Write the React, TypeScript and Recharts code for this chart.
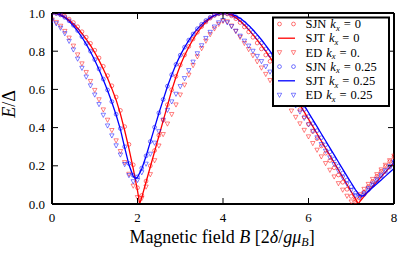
import React from 'react';
import { ComposedChart, Line, Scatter, XAxis, YAxis } from 'recharts';

// Magnetic field grid used by the markers
const B = [
  0.0, 0.1, 0.2, 0.3, 0.4, 0.5, 0.6, 0.7, 0.8, 0.9,
  1.0, 1.1, 1.2, 1.3, 1.4, 1.5, 1.6, 1.7, 1.8, 1.9,
  2.0, 2.1, 2.2, 2.3, 2.4, 2.5, 2.6, 2.7, 2.8, 2.9,
  3.0, 3.1, 3.2, 3.3, 3.4, 3.5, 3.6, 3.7, 3.8, 3.9,
  4.0, 4.1, 4.2, 4.3, 4.4, 4.5, 4.6, 4.7, 4.8, 4.9,
  5.0, 5.1, 5.2, 5.3, 5.4, 5.5, 5.6, 5.7, 5.8, 5.9,
  6.0, 6.1, 6.2, 6.3, 6.4, 6.5, 6.6, 6.7, 6.8, 6.9,
  7.0, 7.1, 7.2, 7.3, 7.4, 7.5, 7.6, 7.7, 7.8, 7.9,
  8.0,
];

const SJN_K0 = [
  1.000, 0.999, 0.993, 0.983, 0.968, 0.950, 0.928, 0.902, 0.873, 0.841,
  0.805, 0.765, 0.721, 0.672, 0.619, 0.560, 0.490, 0.405, 0.312, 0.205,
  0.085, 0.045, 0.120, 0.200, 0.280, 0.360, 0.440, 0.520, 0.598, 0.668,
  0.728, 0.780, 0.825, 0.864, 0.899, 0.929, 0.953, 0.973, 0.988, 0.996,
  0.999, 0.995, 0.985, 0.970, 0.950, 0.927, 0.901, 0.873, 0.843, 0.812,
  0.780, 0.747, 0.713, 0.678, 0.642, 0.606, 0.569, 0.532, 0.494, 0.456,
  0.418, 0.380, 0.342, 0.304, 0.266, 0.228, 0.190, 0.152, 0.114, 0.077,
  0.040, 0.012, 0.030, 0.062, 0.091, 0.118, 0.145, 0.171, 0.197, 0.222,
  0.247,
];

const SJN_K025 = [
  1.000, 0.998, 0.990, 0.977, 0.959, 0.936, 0.908, 0.876, 0.840, 0.800,
  0.756, 0.707, 0.654, 0.597, 0.536, 0.470, 0.395, 0.300, 0.212, 0.150,
  0.142, 0.188, 0.252, 0.327, 0.402, 0.477, 0.547, 0.617, 0.677, 0.731,
  0.779, 0.821, 0.858, 0.890, 0.918, 0.941, 0.961, 0.977, 0.989, 0.997,
  1.000, 0.998, 0.991, 0.980, 0.965, 0.946, 0.924, 0.899, 0.872, 0.843,
  0.812, 0.780, 0.747, 0.713, 0.678, 0.642, 0.606, 0.569, 0.532, 0.495,
  0.458, 0.421, 0.384, 0.347, 0.310, 0.273, 0.236, 0.199, 0.162, 0.126,
  0.090, 0.058, 0.042, 0.050, 0.075, 0.099, 0.123, 0.147, 0.170, 0.193,
  0.216,
];

const ED_K0 = [
  0.965, 0.952, 0.932, 0.905, 0.870, 0.828, 0.782, 0.735, 0.690, 0.643,
  0.596, 0.547, 0.494, 0.440, 0.386, 0.332, 0.276, 0.218, 0.157, 0.095,
  0.035, 0.030, 0.090, 0.155, 0.228, 0.305, 0.365, 0.420, 0.470, 0.520,
  0.572, 0.624, 0.676, 0.726, 0.772, 0.815, 0.854, 0.888, 0.918, 0.942,
  0.958, 0.955, 0.933, 0.905, 0.874, 0.842, 0.810, 0.778, 0.746, 0.713,
  0.680, 0.648, 0.616, 0.584, 0.552, 0.520, 0.488, 0.455, 0.421, 0.387,
  0.353, 0.318, 0.283, 0.248, 0.213, 0.178, 0.143, 0.108, 0.074, 0.042,
  0.012, 0.022, 0.050, 0.078, 0.104, 0.130, 0.155, 0.180, 0.204, 0.228,
  0.252,
];

const ED_K025 = [
  0.960, 0.945, 0.922, 0.893, 0.853, 0.808, 0.760, 0.712, 0.666, 0.620,
  0.572, 0.522, 0.466, 0.410, 0.358, 0.306, 0.258, 0.208, 0.150, 0.118,
  0.125, 0.165, 0.210, 0.262, 0.320, 0.380, 0.440, 0.492, 0.536, 0.576,
  0.616, 0.658, 0.700, 0.744, 0.788, 0.830, 0.868, 0.900, 0.928, 0.950,
  0.962, 0.950, 0.930, 0.906, 0.880, 0.854, 0.828, 0.801, 0.774, 0.747,
  0.720, 0.692, 0.664, 0.635, 0.606, 0.576, 0.546, 0.515, 0.483, 0.450,
  0.416, 0.382, 0.348, 0.313, 0.278, 0.243, 0.208, 0.173, 0.139, 0.105,
  0.073, 0.045, 0.035, 0.058, 0.082, 0.106, 0.130, 0.153, 0.176, 0.198,
  0.220,
];

// SJT curves (own grids including the minima)
const SJT_K0_B = [
  0.0, 0.1, 0.2, 0.3, 0.4, 0.5, 0.6, 0.7, 0.8, 0.9,
  1.0, 1.1, 1.2, 1.3, 1.4, 1.5, 1.6, 1.7, 1.8, 1.9,
  2.0, 2.05, 2.1, 2.2, 2.3, 2.4, 2.5, 2.6, 2.7, 2.8, 2.9,
  3.0, 3.1, 3.2, 3.3, 3.4, 3.5, 3.6, 3.7, 3.8, 3.9,
  4.0, 4.1, 4.2, 4.3, 4.4, 4.5, 4.6, 4.7, 4.8, 4.9,
  5.0, 5.1, 5.2, 5.3, 5.4, 5.5, 5.6, 5.7, 5.8, 5.9,
  6.0, 6.1, 6.2, 6.3, 6.4, 6.5, 6.6, 6.7, 6.8, 6.9,
  7.0, 7.1, 7.16, 7.2, 7.3, 7.4, 7.5, 7.6, 7.7, 7.8, 7.9,
  8.0,
];
const SJT_K0 = [
  1.000, 0.998, 0.991, 0.979, 0.963, 0.943, 0.920, 0.893, 0.863, 0.830,
  0.793, 0.752, 0.707, 0.658, 0.604, 0.545, 0.472, 0.385, 0.290, 0.185,
  0.070, 0.000, 0.035, 0.115, 0.195, 0.275, 0.355, 0.435, 0.515, 0.595, 0.665,
  0.725, 0.777, 0.822, 0.862, 0.897, 0.927, 0.952, 0.972, 0.987, 0.996,
  1.000, 0.997, 0.989, 0.976, 0.958, 0.937, 0.913, 0.887, 0.859, 0.830,
  0.800, 0.768, 0.735, 0.701, 0.666, 0.630, 0.594, 0.557, 0.520, 0.482,
  0.444, 0.406, 0.368, 0.330, 0.292, 0.254, 0.216, 0.178, 0.140, 0.102,
  0.064, 0.026, 0.000, 0.012, 0.040, 0.066, 0.092, 0.117, 0.142, 0.167, 0.192,
  0.216,
];

const SJT_K025_B = [
  0.0, 0.1, 0.2, 0.3, 0.4, 0.5, 0.6, 0.7, 0.8, 0.9,
  1.0, 1.1, 1.2, 1.3, 1.4, 1.5, 1.6, 1.7, 1.8, 1.9, 1.95,
  2.0, 2.1, 2.2, 2.3, 2.4, 2.5, 2.6, 2.7, 2.8, 2.9,
  3.0, 3.1, 3.2, 3.3, 3.4, 3.5, 3.6, 3.7, 3.8, 3.9,
  4.0, 4.1, 4.2, 4.3, 4.4, 4.5, 4.6, 4.7, 4.8, 4.9,
  5.0, 5.1, 5.2, 5.3, 5.4, 5.5, 5.6, 5.7, 5.8, 5.9,
  6.0, 6.1, 6.2, 6.3, 6.4, 6.5, 6.6, 6.7, 6.8, 6.9,
  7.0, 7.1, 7.2, 7.25, 7.3, 7.4, 7.5, 7.6, 7.7, 7.8, 7.9,
  8.0,
];
const SJT_K025 = [
  1.000, 0.997, 0.989, 0.976, 0.957, 0.933, 0.905, 0.873, 0.837, 0.797,
  0.753, 0.704, 0.651, 0.594, 0.533, 0.466, 0.391, 0.295, 0.205, 0.145, 0.134,
  0.140, 0.185, 0.250, 0.325, 0.400, 0.475, 0.545, 0.615, 0.675, 0.730,
  0.778, 0.820, 0.857, 0.889, 0.917, 0.940, 0.960, 0.976, 0.988, 0.996,
  1.000, 0.999, 0.994, 0.985, 0.972, 0.955, 0.935, 0.912, 0.887, 0.860,
  0.831, 0.800, 0.768, 0.734, 0.699, 0.663, 0.627, 0.590, 0.553, 0.516,
  0.479, 0.442, 0.405, 0.368, 0.331, 0.294, 0.257, 0.220, 0.183, 0.146,
  0.110, 0.074, 0.045, 0.040, 0.046, 0.066, 0.086, 0.106, 0.126, 0.146, 0.166,
  0.186,
];

const X_TICKS = [0, 2, 4, 6, 8];
const Y_TICKS = [0, 0.2, 0.4, 0.6, 0.8, 1.0];

const RED = '#ff0000';
const BLUE = '#0000ff';
const FONT = '"Liberation Serif", "DejaVu Serif", serif';

const pts = (xs: number[], ys: number[]) => xs.map((x, i) => ({ x, y: ys[i] }));

const circleShape = (color: string) => (p: any) => (
  <circle cx={p.cx} cy={p.cy} r={1.9} fill="none" stroke={color} strokeOpacity={0.6} strokeWidth={0.9} />
);
const triShape = (color: string) => (p: any) => {
  const { cx, cy } = p;
  const s = 2.2;
  return (
    <polygon
      points={`${cx - s},${cy - s * 0.8} ${cx + s},${cy - s * 0.8} ${cx},${cy + s * 1.1}`}
      fill="none"
      stroke={color}
      strokeOpacity={0.55}
      strokeWidth={0.9}
    />
  );
};

const BottomTick = (p: any) => (
  <g>
    <line x1={p.x} x2={p.x} y1={p.y} y2={p.y - 6} stroke="#000" strokeWidth={1} />
    <text x={p.x} y={p.y + 17.5} textAnchor="middle" fontFamily={FONT} fontSize={13} fill="#000">
      {p.payload.value}
    </text>
  </g>
);
const TopTick = (p: any) => (
  <line x1={p.x} x2={p.x} y1={p.y} y2={p.y + 6} stroke="#000" strokeWidth={1} />
);
const LeftTick = (p: any) => (
  <g>
    <line x1={p.x} x2={p.x + 6} y1={p.y} y2={p.y} stroke="#000" strokeWidth={1} />
    <text x={p.x - 7} y={p.y + 4.5} textAnchor="end" fontFamily={FONT} fontSize={13} fill="#000">
      {Number(p.payload.value).toFixed(1)}
    </text>
  </g>
);
const RightTick = (p: any) => (
  <line x1={p.x} x2={p.x - 6} y1={p.y} y2={p.y} stroke="#000" strokeWidth={1} />
);

const legendRows = [
  { kind: 'circle', color: RED, label: 'SJN', k: '0' },
  { kind: 'line', color: RED, label: 'SJT', k: '0' },
  { kind: 'tri', color: RED, label: 'ED', k: '0.' },
  { kind: 'circle', color: BLUE, label: 'SJN', k: '0.25' },
  { kind: 'line', color: BLUE, label: 'SJT', k: '0.25' },
  { kind: 'tri', color: BLUE, label: 'ED', k: '0.25' },
];

const Legend = () => (
  <svg width={415} height={256} style={{ position: 'absolute', left: 0, top: 0, pointerEvents: 'none' }}>
    <rect x={273} y={17.5} width={116} height={88.5} fill="#fff" stroke="#000" strokeWidth={2} />
    {legendRows.map((r, i) => {
      const cy = 24 + i * 14.2;
      let mark: any;
      if (r.kind === 'circle') {
        mark = (
          <g>
            {circleShape(r.color)({ cx: 279.5, cy })}
            {circleShape(r.color)({ cx: 293.5, cy })}
          </g>
        );
      } else if (r.kind === 'tri') {
        mark = (
          <g>
            {triShape(r.color)({ cx: 279.5, cy })}
            {triShape(r.color)({ cx: 293.5, cy })}
          </g>
        );
      } else {
        mark = <line x1={278} x2={295} y1={cy} y2={cy} stroke={r.color} strokeWidth={1.3} />;
      }
      return (
        <g key={i}>
          {mark}
          <text x={305.5} y={cy + 4.2} fontFamily={FONT} fontSize={12.5} fill="#000">
            {r.label}
            <tspan fontStyle="italic" dx={4}>k</tspan>
            <tspan fontStyle="italic" fontSize={8.5} dy={2.5}>x</tspan>
            <tspan dy={-2.5} dx={4}>=</tspan>
            <tspan dx={4}>{r.k}</tspan>
          </text>
        </g>
      );
    })}
  </svg>
);

const Titles = () => (
  <svg width={415} height={256} style={{ position: 'absolute', left: 0, top: 0, pointerEvents: 'none' }}>
    <text x={222} y={243} textAnchor="middle" fontFamily={FONT} fontSize={18} fill="#000">
      {'Magnetic field '}
      <tspan fontStyle="italic">B</tspan>
      {' [2'}
      <tspan fontStyle="italic">δ</tspan>
      {'/'}
      <tspan fontStyle="italic">gμ</tspan>
      <tspan fontStyle="italic" fontSize={12} dy={3}>B</tspan>
      <tspan dy={-3}>]</tspan>
    </text>
    <text
      x={15}
      y={104}
      textAnchor="middle"
      fontFamily={FONT}
      fontSize={18}
      fill="#000"
      transform="rotate(-90 15 104)"
    >
      <tspan fontStyle="italic">E</tspan>
      {'/Δ'}
    </text>
  </svg>
);

export default function App() {
  const axisLine = { stroke: '#000', strokeWidth: 2 };
  return (
    <div style={{ position: 'absolute', left: 0, top: 0, width: 415, height: 256, background: '#fff' }}>
      <ComposedChart width={415} height={256} margin={{ top: 0, right: 0, bottom: 0, left: 0 }}>
        <XAxis
          xAxisId="b"
          type="number"
          dataKey="x"
          domain={[0, 8]}
          ticks={X_TICKS}
          height={52}
          orientation="bottom"
          axisLine={axisLine}
          tickLine={false}
          tickSize={0}
          tickMargin={0}
          tick={<BottomTick />}
          allowDataOverflow
        />
        <XAxis
          xAxisId="t"
          type="number"
          dataKey="x"
          domain={[0, 8]}
          ticks={X_TICKS}
          height={13}
          orientation="top"
          axisLine={axisLine}
          tickLine={false}
          tickSize={0}
          tickMargin={0}
          tick={<TopTick />}
          allowDataOverflow
        />
        <YAxis
          yAxisId="l"
          type="number"
          dataKey="y"
          domain={[0, 1]}
          ticks={Y_TICKS}
          width={52}
          orientation="left"
          axisLine={axisLine}
          tickLine={false}
          tickSize={0}
          tickMargin={0}
          tick={<LeftTick />}
          allowDataOverflow
        />
        <YAxis
          yAxisId="r"
          type="number"
          dataKey="y"
          domain={[0, 1]}
          ticks={Y_TICKS}
          width={21}
          orientation="right"
          axisLine={axisLine}
          tickLine={false}
          tickSize={0}
          tickMargin={0}
          tick={<RightTick />}
          allowDataOverflow
        />
        <Scatter xAxisId="b" yAxisId="l" data={pts(B, ED_K0)} shape={triShape(RED)} isAnimationActive={false} />
        <Scatter xAxisId="b" yAxisId="l" data={pts(B, ED_K025)} shape={triShape(BLUE)} isAnimationActive={false} />
        <Scatter xAxisId="b" yAxisId="l" data={pts(B, SJN_K0)} shape={circleShape(RED)} isAnimationActive={false} />
        <Scatter xAxisId="b" yAxisId="l" data={pts(B, SJN_K025)} shape={circleShape(BLUE)} isAnimationActive={false} />
        <Line
          xAxisId="b"
          yAxisId="l"
          data={pts(SJT_K0_B, SJT_K0)}
          dataKey="y"
          type="linear"
          stroke={RED}
          strokeWidth={1.3}
          dot={false}
          isAnimationActive={false}
        />
        <Line
          xAxisId="b"
          yAxisId="l"
          data={pts(SJT_K025_B, SJT_K025)}
          dataKey="y"
          type="linear"
          stroke={BLUE}
          strokeWidth={1.3}
          dot={false}
          isAnimationActive={false}
        />
      </ComposedChart>
      <Titles />
      <Legend />
    </div>
  );
}
